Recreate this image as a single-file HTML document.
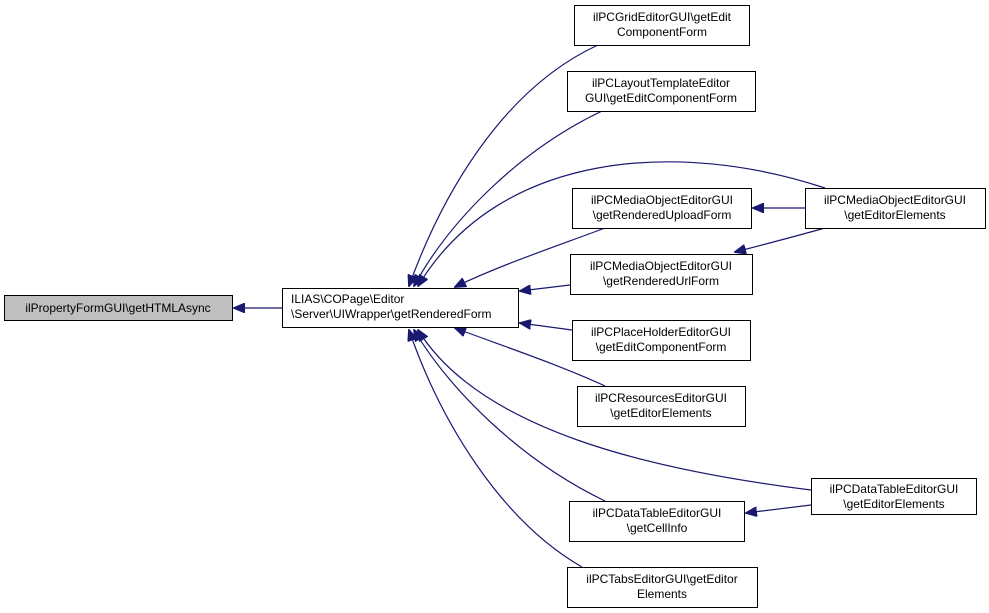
<!DOCTYPE html>
<html><head><style>
body{margin:0;background:#fff;}
svg{display:block;}
text{font-family:"Liberation Sans",Helvetica,sans-serif;font-size:12px;fill:#000;}
</style></head><body>
<svg width="989" height="613" viewBox="0 0 989 613" xmlns="http://www.w3.org/2000/svg">
<defs><marker id="a" markerWidth="12" markerHeight="10" refX="11" refY="5" orient="auto" markerUnits="userSpaceOnUse"><path d="M0,0 L12,5 L0,10 z" fill="#191970" stroke="#191970"/></marker></defs>
<g fill="none" stroke="#191970" stroke-width="1.2">
<path d="M282,308 L234,308" marker-end="url(#a)"/>
<path d="M598,45 C500,90 440,200 409,286" marker-end="url(#a)"/>
<path d="M602,111 C520,150 450,220 414,286" marker-end="url(#a)"/>
<path d="M825,188 C680,140 500,150 418,286" marker-end="url(#a)"/>
<path d="M605,228 C560,245 500,265 455,287" marker-end="url(#a)"/>
<path d="M570,285 L520,291" marker-end="url(#a)"/>
<path d="M572,330 L520,323" marker-end="url(#a)"/>
<path d="M605,386 C560,365 500,345 455,328" marker-end="url(#a)"/>
<path d="M811,490 C650,470 480,430 418,330" marker-end="url(#a)"/>
<path d="M605,501 C520,460 450,390 414,330" marker-end="url(#a)"/>
<path d="M582,567 C500,520 440,420 409,330" marker-end="url(#a)"/>
<path d="M805,208 L753,208" marker-end="url(#a)"/>
<path d="M825,228 C800,235 770,243 735,252" marker-end="url(#a)"/>
<path d="M811,505 L746,513" marker-end="url(#a)"/>
</g>
<g stroke="#000" stroke-width="1" fill="#fff">
<rect x="4.5" y="295.5" width="228" height="25" fill="#bfbfbf"/>
<rect x="282.5" y="288.5" width="236" height="39"/>
<rect x="574.5" y="5.5" width="175" height="40"/>
<rect x="567.5" y="71.5" width="188" height="40"/>
<rect x="572.5" y="188.5" width="179" height="40"/>
<rect x="805.5" y="188.5" width="180" height="40"/>
<rect x="570.5" y="254.5" width="182" height="40"/>
<rect x="572.5" y="320.5" width="178" height="40"/>
<rect x="577.5" y="386.5" width="168" height="40"/>
<rect x="811.5" y="478.5" width="165" height="36"/>
<rect x="569.5" y="501.5" width="175" height="40"/>
<rect x="567.5" y="567.5" width="190" height="40"/>
</g>
<text x="118" y="312" text-anchor="middle">ilPropertyFormGUI\getHTMLAsync</text>
<text x="291" y="303">ILIAS\COPage\Editor</text>
<text x="291" y="318">\Server\UIWrapper\getRenderedForm</text>
<g text-anchor="middle">
<text x="662" y="21">ilPCGridEditorGUI\getEdit</text><text x="662" y="36">ComponentForm</text>
<text x="661" y="87">ilPCLayoutTemplateEditor</text><text x="661" y="102">GUI\getEditComponentForm</text>
<text x="662" y="204">ilPCMediaObjectEditorGUI</text><text x="662" y="219">\getRenderedUploadForm</text>
<text x="895" y="204">ilPCMediaObjectEditorGUI</text><text x="895" y="219">\getEditorElements</text>
<text x="661" y="270">ilPCMediaObjectEditorGUI</text><text x="661" y="285">\getRenderedUrlForm</text>
<text x="661" y="336">ilPCPlaceHolderEditorGUI</text><text x="661" y="351">\getEditComponentForm</text>
<text x="661" y="402">ilPCResourcesEditorGUI</text><text x="661" y="417">\getEditorElements</text>
<text x="894" y="493">ilPCDataTableEditorGUI</text><text x="894" y="508">\getEditorElements</text>
<text x="657" y="517">ilPCDataTableEditorGUI</text><text x="657" y="532">\getCellInfo</text>
<text x="662" y="583">ilPCTabsEditorGUI\getEditor</text><text x="662" y="598">Elements</text>
</g>
</svg>
</body></html>
